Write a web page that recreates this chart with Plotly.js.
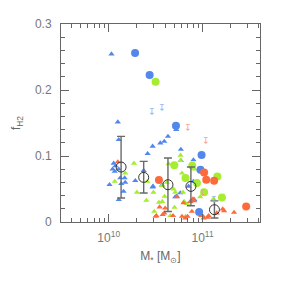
<!DOCTYPE html>
<html><head><meta charset="utf-8">
<script src="https://cdn.plot.ly/plotly-3.0.1.min.js"></script>
<style>html,body{margin:0;padding:0;background:#fff}#plot{width:283px;height:283px}</style>
</head><body><div id="plot"></div>
<script>
// stellar masses in units of 1e10 Msun, f_H2 values
const blueTriM = [1.07,1.25,1.28,1.13,1.10,1.16,1.02,1.33,1.48,1.50,1.36,1.44,1.28,1.92,2.36,2.60,2.94,2.94,3.55,3.91,4.28,3.70,5.25,5.88,5.88,2.97,5.12,8.0,5.79,5.33,7.1,8.0,8.17,1.18,1.28];
const blueTriF = [0.2545,0.1515,0.1247,0.089,0.080,0.0767,0.0565,0.0667,0.0667,0.060,0.058,0.0464,0.0338,0.0626,0.078,0.1035,0.1146,0.053,0.1197,0.122,0.1297,0.056,0.140,0.110,0.093,0.054,0.038,0.0615,0.044,0.039,0.054,0.094,0.034,0.085,0.080];
const greenTriM = [1.86,1.50,1.16,2.0,2.52,3.0,2.58,3.43,3.72,3.94,4.17,4.35,4.92,5.12,5.03,5.83,5.83,6.04,6.18,6.37,6.83,6.59,8.23,9.45,13.1,3.7,4.54,3.06];
const greenTriF = [0.089,0.074,0.0615,0.045,0.0327,0.045,0.0615,0.0297,0.031,0.0388,0.060,0.088,0.050,0.045,0.022,0.101,0.093,0.074,0.045,0.031,0.0277,0.0085,0.080,0.038,0.035,0.055,0.0095,0.016];
const orangeTriM = [1.25,3.49,3.16,3.76,5.33,7.4,8.17,6.93,6.54,9.66,11.3,14.2,16.4,17.0,21.7,3.22,3.91,4.0,4.85,6.04,7.7,10.0,11.6,6.27,7.9,10.3];
const orangeTriF = [0.091,0.0227,0.0085,0.011,0.038,0.031,0.032,0.0085,0.006,0.0095,0.007,0.0136,0.0197,0.017,0.0145,0.0095,0.0136,0.021,0.0095,0.0085,0.016,0.0095,0.0095,0.029,0.035,0.006];
const blueCirM = [1.91,2.73,5.21,9.77,9.5,9.2];
const blueCirF = [0.256,0.2227,0.146,0.1015,0.079,0.015];
const greenCirM = [3.16,5.0,7.77,6.59,8.72,10.4,14.4,16.1];
const greenCirF = [0.2126,0.0858,0.0853,0.0667,0.059,0.045,0.069,0.037];
const orangeCirM = [3.43,10.4,10.95,13.3,29.2];
const orangeCirF = [0.0636,0.075,0.064,0.0626,0.0236];
const blueLimM = [2.89,3.66,13.1];
const blueLimF = [0.175,0.181,0.041];
const orangeLimM = [6.93,10.86,10.2];
const orangeLimF = [0.15,0.13,0.052];
const binM = [1.355,2.36,4.28,7.52,13.4];
const binF = [0.0833,0.0676,0.0565,0.054,0.0186];
const binHi = [0.1297,0.0918,0.097,0.0833,0.032];
const binLo = [0.0364,0.044,0.016,0.0247,0.006];
const xTickVals = [1e10,1e11];
const xTickText = ['10<sup>10</sup>','10<sup>11</sup>'];
const yTickVals = [0,0.1,0.2,0.3];
const yTickText = ['0','0.1','0.2','0.3'];

const UNIT = 1e10;
const toM = a => a.map(v => v*UNIT);
const BLUE='#5287ec', GREEN='#a6ec30', ORANGE='#ff6a3c', LBLUE='#8fb2f4', LORANGE='#f7a184';

function tri(m,f,c){return {x:toM(m),y:f,mode:'markers',type:'scatter',marker:{symbol:'triangle-up',size:5.5,color:c},hoverinfo:'skip'};}
function cir(m,f,c){return {x:toM(m),y:f,mode:'markers',type:'scatter',marker:{symbol:'circle',size:8,color:c},hoverinfo:'skip'};}

const traces = [
  tri(blueTriM,blueTriF,BLUE), tri(greenTriM,greenTriF,GREEN), tri(orangeTriM,orangeTriF,ORANGE),
  cir(blueCirM,blueCirF,BLUE), cir(greenCirM,greenCirF,GREEN), cir(orangeCirM,orangeCirF,ORANGE),
  {x:toM(binM),y:binF,mode:'markers',type:'scatter',
   marker:{symbol:'circle-open',size:10,color:'#333',line:{width:1,color:'#333'}},
   error_y:{type:'data',symmetric:false,array:binHi.map((h,i)=>h-binF[i]),arrayminus:binLo.map((l,i)=>binF[i]-l),color:'#6a6a6a',thickness:1.4,width:4},
   hoverinfo:'skip'}
];

// upper limits drawn as "bar with downward arrow" glyphs anchored at the limit value
const annotations = [];
function limGlyphs(m,f,c){m.forEach((v,i)=>annotations.push({x:Math.log10(v*UNIT),y:f[i],xref:'x',yref:'y',text:'↧',showarrow:false,yanchor:'top',yshift:2,font:{family:'DejaVu Sans',size:9,color:c}}));}
limGlyphs(blueLimM,blueLimF,LBLUE); limGlyphs(orangeLimM,orangeLimF,LORANGE);

const minorX=[];
for (const d of [1e9,1e10,1e11]) for (let k=2;k<=9;k++) minorX.push(k*d);

const axisCommon = {ticks:'inside',ticklen:8,tickwidth:1,tickcolor:'#666',showline:true,linecolor:'#666',linewidth:1,mirror:'ticks',showgrid:false,zeroline:false,
  tickfont:{family:'Liberation Sans, Arial, sans-serif',size:12,color:'#777'}};
const layout = {
  width:283,height:283,margin:{l:61,r:23,t:24,b:61},
  paper_bgcolor:'#fff',plot_bgcolor:'#fff',showlegend:false,
  font:{family:'Liberation Sans, Arial, sans-serif',size:12,color:'#666'},
  xaxis:Object.assign({},axisCommon,{type:'log',range:[Math.log10(3.1e9),Math.log10(4.1e11)],tickmode:'array',tickvals:xTickVals,ticktext:xTickText,ticklabelstandoff:5,
    minor:{tickmode:'array',tickvals:minorX,ticks:'inside',ticklen:4,tickcolor:'#666',showgrid:false},
    title:{text:'M<sub>*</sub> [M<sub>⊙</sub>]',font:{size:12,color:'#666'},standoff:7}}),
  yaxis:Object.assign({},axisCommon,{range:[0,0.3],tickmode:'array',tickvals:yTickVals,ticktext:yTickText,ticklabelstandoff:6,
    minor:{dtick:0.02,ticks:'inside',ticklen:4,tickcolor:'#666',showgrid:false},
    title:{text:'f<sub>H2</sub>',font:{size:12,color:'#666'},standoff:11}}),
  annotations:annotations
};
Plotly.newPlot('plot',traces,layout,{staticPlot:true,displayModeBar:false});
</script></body></html>
